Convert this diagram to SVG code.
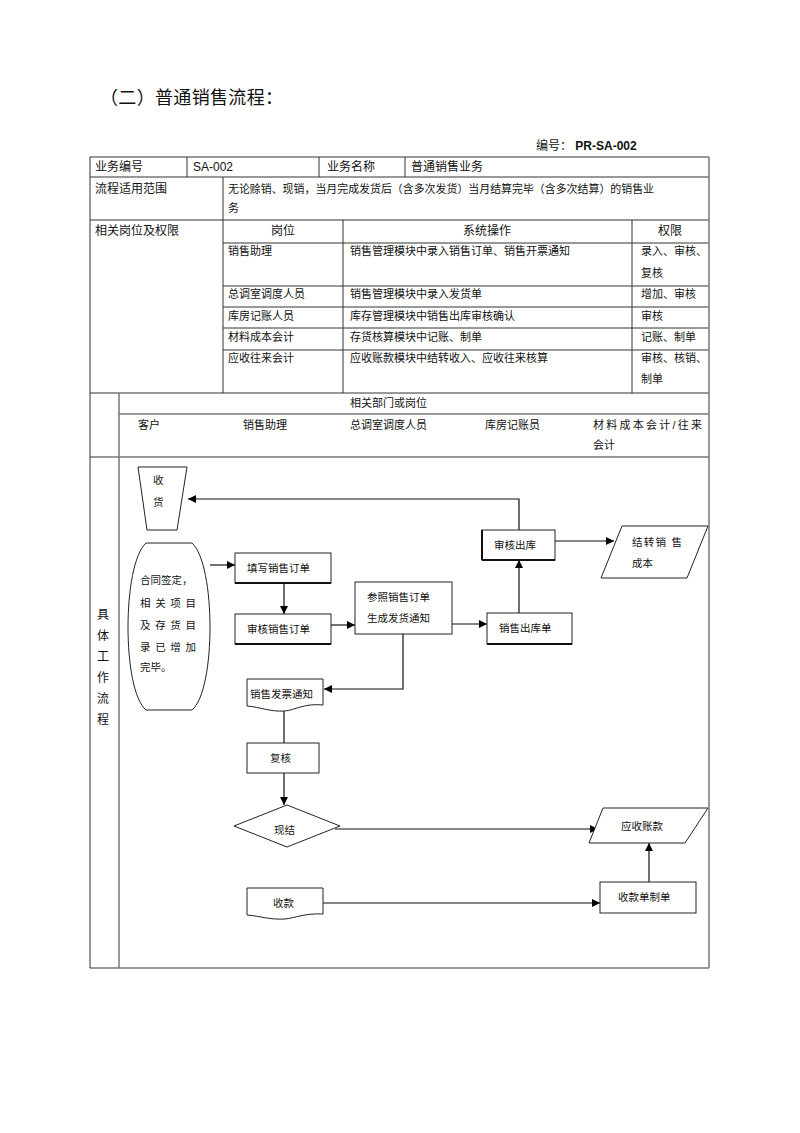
<svg xmlns="http://www.w3.org/2000/svg" width="800" height="1133" viewBox="0 0 800 1133">
<defs>
<marker id="ah" viewBox="0 0 10 10" refX="10" refY="5" markerWidth="8" markerHeight="8" markerUnits="userSpaceOnUse" orient="auto"><path d="M0,0 L10,5 L0,10 Z" fill="#000"/></marker>
<style>
text{font-family:"Liberation Sans","Noto Sans CJK SC",sans-serif;fill:#111}
.t12{font-size:12px}
.t11{font-size:11px}
.f{font-size:10.5px}
.ln{stroke:#333;stroke-width:1;fill:none}
.bd{stroke:#777;stroke-width:1.5;fill:none}
.nd{fill:#fff;stroke:#222;stroke-width:1}
.cn{stroke:#111;stroke-width:1.2;fill:none}
</style>
</defs>
<rect width="800" height="1133" fill="#fff"/>
<text x="100" y="104" style="font-size:18px" textLength="183" lengthAdjust="spacing">（二）普通销售流程：</text>
<text x="536" y="150" class="t12">编号： <tspan font-weight="bold">PR-SA-002</tspan></text>

<g id="table">
<line class="ln" x1="90" y1="157" x2="709" y2="157"/>
<line class="ln" x1="90" y1="177" x2="709" y2="177"/>
<line class="ln" x1="90" y1="220" x2="709" y2="220"/>
<line class="ln" x1="223" y1="243" x2="709" y2="243"/>
<line class="ln" x1="223" y1="286" x2="709" y2="286"/>
<line class="ln" x1="223" y1="307" x2="709" y2="307"/>
<line class="ln" x1="223" y1="328" x2="709" y2="328"/>
<line class="ln" x1="223" y1="350" x2="709" y2="350"/>
<line class="ln" x1="90" y1="393" x2="709" y2="393"/>
<line class="ln" x1="119" y1="414" x2="709" y2="414"/>
<line class="ln" x1="90" y1="457" x2="709" y2="457"/>
<line class="ln" x1="90" y1="968" x2="709" y2="968"/>
<line class="ln" x1="90" y1="157" x2="90" y2="968"/>
<line class="bd" x1="709" y1="157" x2="709" y2="968"/>
<line class="ln" x1="187" y1="157" x2="187" y2="177"/>
<line class="ln" x1="319" y1="157" x2="319" y2="177"/>
<line class="ln" x1="405" y1="157" x2="405" y2="177"/>
<line class="ln" x1="223" y1="177" x2="223" y2="393"/>
<line class="ln" x1="343" y1="220" x2="343" y2="393"/>
<line class="ln" x1="632" y1="220" x2="632" y2="393"/>
<line class="bd" x1="119" y1="393" x2="119" y2="968"/>

<text x="95" y="171" class="t12">业务编号</text>
<text x="193" y="171" class="t12">SA-002</text>
<text x="327" y="171" class="t12">业务名称</text>
<text x="411" y="171" class="t12">普通销售业务</text>
<text x="95" y="193" class="t12">流程适用范围</text>
<text x="228" y="193" class="t11" textLength="426" lengthAdjust="spacingAndGlyphs">无论赊销、现销，当月完成发货后（含多次发货）当月结算完毕（含多次结算）的销售业</text>
<text x="228" y="212" class="t11">务</text>
<text x="95" y="235" class="t12">相关岗位及权限</text>
<text x="283" y="235" class="t12" text-anchor="middle">岗位</text>
<text x="487" y="235" class="t12" text-anchor="middle">系统操作</text>
<text x="670" y="235" class="t12" text-anchor="middle">权限</text>
<text x="228" y="255" class="t11">销售助理</text>
<text x="350" y="255" class="t11">销售管理模块中录入销售订单、销售开票通知</text>
<text x="641" y="255" class="t11">录入、审核、</text>
<text x="641" y="277" class="t11">复核</text>
<text x="228" y="298" class="t11">总调室调度人员</text>
<text x="350" y="298" class="t11">销售管理模块中录入发货单</text>
<text x="641" y="298" class="t11">增加、审核</text>
<text x="228" y="320" class="t11">库房记账人员</text>
<text x="350" y="320" class="t11">库存管理模块中销售出库审核确认</text>
<text x="641" y="320" class="t11">审核</text>
<text x="228" y="341" class="t11">材料成本会计</text>
<text x="350" y="341" class="t11">存货核算模块中记账、制单</text>
<text x="641" y="341" class="t11">记账、制单</text>
<text x="228" y="362" class="t11">应收往来会计</text>
<text x="350" y="362" class="t11">应收账款模块中结转收入、应收往来核算</text>
<text x="641" y="362" class="t11">审核、核销、</text>
<text x="641" y="383" class="t11">制单</text>

<text x="350" y="407" class="t11">相关部门或岗位</text>
<text x="138" y="429" class="t11">客户</text>
<text x="243" y="429" class="t11">销售助理</text>
<text x="350" y="429" class="t11">总调室调度人员</text>
<text x="485" y="429" class="t11">库房记账员</text>
<text x="593" y="429" class="t11" textLength="109" lengthAdjust="spacing">材料成本会计/往来</text>
<text x="593" y="449" class="t11">会计</text>
<g class="t12">
<text x="97" y="619">具</text>
<text x="97" y="640">体</text>
<text x="97" y="661">工</text>
<text x="97" y="682">作</text>
<text x="97" y="703">流</text>
<text x="97" y="724">程</text>
</g>
</g>

<g id="connectors">
<polyline class="cn" points="519,530 519,499 188,499" marker-end="url(#ah)"/>
<line class="cn" x1="210" y1="565" x2="235" y2="565" marker-end="url(#ah)"/>
<line class="cn" x1="284" y1="583" x2="284" y2="614" marker-end="url(#ah)"/>
<line class="cn" x1="331" y1="625" x2="355" y2="625" marker-end="url(#ah)"/>
<line class="cn" x1="452" y1="624" x2="487" y2="624" marker-end="url(#ah)"/>
<line class="cn" x1="519" y1="613" x2="519" y2="560" marker-end="url(#ah)"/>
<line class="cn" x1="555" y1="541" x2="614" y2="541" marker-end="url(#ah)"/>
<polyline class="cn" points="403,634 403,689 324,689" marker-end="url(#ah)"/>
<line class="cn" x1="284" y1="707" x2="284" y2="743"/>
<line class="cn" x1="284" y1="773" x2="284" y2="805" marker-end="url(#ah)"/>
<line class="cn" x1="335" y1="829" x2="598" y2="829" marker-end="url(#ah)"/>
<line class="cn" x1="323" y1="903" x2="600" y2="903" marker-end="url(#ah)"/>
<line class="cn" x1="649" y1="882" x2="649" y2="843" marker-end="url(#ah)"/>
</g>

<g id="n-shouhuo">
<polygon class="nd" points="138,467 187,467 177,530 147,530"/>
<text x="153" y="484" class="f">收</text>
<text x="153" y="506" class="f">货</text>
</g>
<g id="n-hetong">
<path class="nd" d="M146,543 H192 C216,565 216,690 192,710 H146 C122,690 122,565 146,543 Z"/>
<text x="140" y="584" class="f">合同签定，</text>
<text x="140" y="607" class="f" textLength="56" lengthAdjust="spacing">相关项目</text>
<text x="140" y="629" class="f" textLength="56" lengthAdjust="spacing">及存货目</text>
<text x="140" y="651" class="f" textLength="56" lengthAdjust="spacing">录已增加</text>
<text x="140" y="671" class="f">完毕。</text>
</g>
<g id="n-tianxie">
<rect class="nd" x="235" y="553" width="96" height="30"/>
<line x1="235" y1="583" x2="331" y2="583" stroke="#111" stroke-width="2"/>
<text x="247" y="572" class="f">填写销售订单</text>
</g>
<g id="n-shenhe-dd">
<rect class="nd" x="235" y="614" width="96" height="30"/>
<line x1="235" y1="644" x2="331" y2="644" stroke="#111" stroke-width="2"/>
<text x="247" y="633" class="f">审核销售订单</text>
</g>
<g id="n-canzhao">
<rect class="nd" x="355" y="582" width="97" height="52"/>
<text x="367" y="601" class="f">参照销售订单</text>
<text x="367" y="622" class="f">生成发货通知</text>
</g>
<g id="n-chukudan">
<rect class="nd" x="487" y="613" width="85" height="31"/>
<line x1="487" y1="644" x2="572" y2="644" stroke="#111" stroke-width="2"/>
<text x="499" y="632" class="f">销售出库单</text>
</g>
<g id="n-shenhe-ck">
<rect class="nd" x="482" y="530" width="73" height="30"/>
<line x1="482" y1="560" x2="555" y2="560" stroke="#111" stroke-width="2"/>
<line x1="482" y1="530" x2="482" y2="560" stroke="#111" stroke-width="2"/>
<text x="494" y="549" class="f">审核出库</text>
</g>
<g id="n-jiezhuan">
<polygon class="nd" points="622,526 708,526 687,578 601,578"/>
<text x="632" y="546" class="f" textLength="50" lengthAdjust="spacing">结转销 售</text>
<text x="632" y="567" class="f">成本</text>
</g>
<g id="n-fapiao">
<path class="nd" d="M247,679 H323 V705 C305,703 295,710 285,711 C270,712 260,707 247,706 Z"/>
<text x="250" y="698" class="f">销售发票通知</text>
</g>
<g id="n-fuhe">
<rect class="nd" x="247" y="743" width="72" height="30"/>
<text x="270" y="762" class="f">复核</text>
</g>
<g id="n-xianjie">
<polygon class="nd" points="287,805 340,826 287,847 234,826"/>
<text x="274" y="834" class="f">现结</text>
</g>
<g id="n-yingshou">
<polygon class="nd" points="603,808 708,808 685,843 589,843"/>
<text x="621" y="830" class="f">应收账款</text>
</g>
<g id="n-shoukuan">
<path class="nd" d="M247,888 H323 V914 C305,913 295,918 285,919 C270,920 260,916 247,915 Z"/>
<text x="273" y="907" class="f">收款</text>
</g>
<g id="n-shoukuandan">
<rect class="nd" x="600" y="882" width="96" height="31"/>
<text x="618" y="901" class="f">收款单制单</text>
</g>
</svg>
